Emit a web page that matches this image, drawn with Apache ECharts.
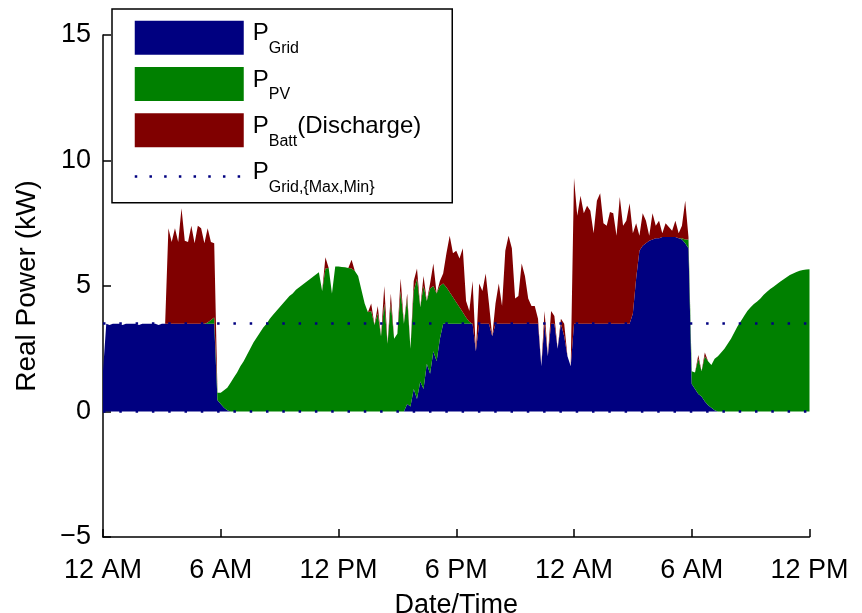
<!DOCTYPE html>
<html><head><meta charset="utf-8">
<script src="https://cdn.jsdelivr.net/npm/echarts@6/dist/echarts.min.js"></script>
<style>html,body{margin:0;padding:0;background:#fff}#c{width:862px;height:613px}</style>
</head><body><div id="c"></div>
<script>
// x-axis tick labels (every 6 h over 36 h)
const tickLabels = ['12 AM', '6 AM', '12 PM', '6 PM', '12 AM', '6 AM', '12 PM'];
// sampling step of the readings (minutes)
const stepMinutes = 10;
const minutesPerTick = 360;

// P_Grid (kW), one reading every 10 min from 12 AM (217 readings)
const grid = [
  1.6,
  3.5,3.45,3.5,3.5,3.5,3.45,3.5,3.5,3.5,3.5,
  3.45,3.5,3.5,3.5,3.5,3.5,3.45,3.5,3.5,
  3.5,3.5,3.5,3.5,3.5,3.5,3.5,3.5,3.5,3.5,3.5,3.5,3.5,3.5,3.5,
  0.45,0.3,0.15,0.05,
  0,0,0,0,0,0,0,0,0,0,
  0,0,0,0,0,0,0,0,0,0,
  0,0,0,0,0,0,0,0,0,0,
  0,0,0,0,0,0,0,0,0,0,
  0,0,0,0,0,0,0,0,0,0,
  0,0,0,0,
  0.3,0.2,0.9,0.5,1.2,0.9,1.9,1.5,2.4,2.0,2.9,
  3.5,3.5,3.5,3.5,3.5,3.5,3.5,3.5,3.5,3.5,
  2.4,
  3.5,3.5,3.5,3.5,
  3.0,
  3.5,3.5,3.5,3.5,3.5,3.5,3.5,3.5,3.5,3.5,3.5,3.5,3.5,3.5,
  1.8,3.5,2.2,3.5,3.5,2.5,3.5,3.0,2.2,1.8,
  3.5,3.5,3.5,3.5,3.5,3.5,3.5,3.5,3.5,3.5,3.5,3.5,3.5,3.5,3.5,3.5,3.5,3.5,
  3.9,5.3,6.4,6.6,6.7,6.8,6.85,6.9,6.9,6.95,6.95,6.95,6.95,6.95,6.9,6.85,6.7,6.5,
  1.1,0.9,0.7,0.6,0.4,0.25,0.15,0.05,
  0,0,0,0,0,0,0,0,0,0,
  0,0,0,0,0,0,0,0,0,0,
  0,0,0,0,0,0,0,0,0
];

// P_PV (kW)
const pv = [
  0,0,0,0,0,0,0,0,0,0,
  0,0,0,0,0,0,0,0,0,0,
  0,0,0,0,0,0,0,0,0,0,
  0,0,
  0.05,0.15,0.25,0.3,0.45,0.7,0.9,
  1.15,1.35,1.55,1.8,2.0,2.25,2.5,2.75,2.95,3.15,
  3.35,3.5,3.7,3.85,4.0,4.15,4.3,4.45,4.6,4.7,
  4.85,4.95,5.05,5.15,5.25,5.35,5.45,
  5.55,4.8,5.7,5.72,4.7,5.78,5.78,5.76,5.75,5.72,5.7,5.6,5.4,4.85,4.3,3.95,
  4.0,3.45,3.9,3.0,4.3,2.7,4.3,2.9,3.1,4.8,3.5,
  4.2,2.3,3.9,4.8,2.95,4.1,2.5,3.4,2.6,2.7,2.1,
  1.6,1.45,1.25,1.05,0.85,0.65,0.45,0.25,0.08,
  0,0,0,0,0,0,0,0,0,0,
  0,0,0,0,0,0,0,0,0,0,
  0,0,0,0,0,0,0,0,0,0,
  0,0,0,0,0,0,0,0,0,0,
  0,0,0,0,0,0,0,0,0,0,
  0,0,0,0,0,0,0,0,0,0,
  0,0,0,0,
  0.05,0.15,0.35,
  0.5,0.65,1.4,1.0,1.8,1.75,1.7,2.05,
  2.2,2.35,2.5,2.7,2.9,3.15,3.4,3.6,3.8,4.0,
  4.15,4.28,4.38,4.5,4.65,4.77,4.88,4.97,5.07,5.17,
  5.26,5.35,5.44,5.5,5.56,5.61,5.64,5.66,5.67
];

// P_Batt discharge (kW)
const batt = [
  0,0,0,0,0,0,0,0,0,0,
  0,0,0,0,0,0,0,0,0,0,
  3.8,3.25,3.8,3.25,4.6,3.3,3.25,3.9,3.2,3.9,3.8,3.2,3.75,3.1,2.95,
  0,0,0,0,0,0,0,0,0,0,
  0,0,0,0,0,0,0,0,0,0,
  0,0,0,0,0,0,0,0,0,0,
  0,0,0,
  0.45,
  0,0,0,0,0,0,0,
  0.35,
  0,0,0,0,0,
  0.3,0,0.3,0,0.7,0,0.4,0,0,0.5,0,
  0.2,0,0.4,0.4,0,0.4,0,0.2,0.9,0,0.2,
  0.4,
  1.35,2.25,1.75,2.05,1.95,2.55,0.65,0.42,1.7,0,
  1.6,1.3,2.0,0.8,0,0.8,1.6,0.7,2.9,3.5,
  3.0,1.0,1.1,2.4,1.9,1.0,0.7,0.7,0.2,0,
  0.5,0,0.5,0.3,0,0.2,0.5,0,0,
  5.8,4.3,5.1,4.4,4.7,4.5,3.6,4.9,5.2,4.0,
  3.9,4.45,4.4,3.5,5.05,3.9,4.1,4.8,
  3.2,2.2,0.6,1.3,0.9,0.2,1.05,0.5,0.7,0.15,
  0.55,0.4,0.25,0.65,0.2,0.5,1.55,0.1,
  0,0,0.15,0,0.15,
  0,0,0,0,0,0,0,0,0,0,
  0,0,0,0,0,0,0,0,0,0,
  0,0,0,0,0,0,0,0,0,0,
  0,0
];

// grid power limits (kW)
const gridMax = 3.5;
const gridMin = 0;

const times = grid.map((_, i) => String(i * stepMinutes));
const F = "'Liberation Sans', Arial, Helvetica, sans-serif";
const NAVY = '#000080', GREEN = '#008000', MAROON = '#800000';

const legendText = {
  'P_Grid': '{p|P}Grid',
  'P_PV': '{p|P}PV',
  'P_Batt(Discharge)': '{p|P}Batt{q|(Discharge)}',
  'P_Grid,{Max,Min}': '{p|P}Grid,{Max,Min}'
};

const isTick = (idx) => (idx * stepMinutes) % minutesPerTick === 0;

const chart = echarts.init(document.getElementById('c'), null, {renderer: 'canvas'});
chart.setOption({
  animation: false,
  backgroundColor: '#fff',
  textStyle: {fontFamily: F},
  grid: {left: 103, right: 52.5, top: 35, bottom: 76, containLabel: false, outerBoundsMode: 'none'},
  legend: {
    orient: 'vertical', left: 112, top: 9,
    itemWidth: 109, itemHeight: 34, itemGap: -8.7,
    padding: [11.7, 31, -11.9, 21.5],
    borderColor: '#000', borderWidth: 1.5, backgroundColor: '#fff',
    selectedMode: false,
    data: [
      {name: 'P_Grid', icon: 'rect'},
      {name: 'P_PV', icon: 'rect'},
      {name: 'P_Batt(Discharge)', icon: 'rect'},
      {name: 'P_Grid,{Max,Min}', itemStyle: {opacity: 0},
       lineStyle: {color: NAVY, width: 2.5, type: [2.5, 12.2]}}
    ],
    formatter: (n) => legendText[n],
    textStyle: {
      fontSize: 16, fontFamily: F, color: '#000', lineHeight: 34,
      padding: [11, 0, -11, 0],
      rich: {
        p: {fontSize: 24, fontFamily: F, color: '#000', lineHeight: 34, padding: [0, 0, 30, 4]},
        q: {fontSize: 24, fontFamily: F, color: '#000', lineHeight: 34, padding: [0, 0, 30, 0]}
      }
    }
  },
  xAxis: {
    type: 'category', data: times, boundaryGap: false,
    name: 'Date/Time', nameLocation: 'middle', nameGap: 55,
    nameTextStyle: {fontSize: 27, color: '#000', fontFamily: F},
    axisLine: {show: true, onZero: false, lineStyle: {color: '#000', width: 1.5}},
    axisTick: {show: true, inside: true, length: 8, interval: (idx) => isTick(idx), lineStyle: {color: '#000', width: 1.5}},
    axisLabel: {interval: (idx) => isTick(idx), margin: 20, fontSize: 27, color: '#000', fontFamily: F,
      formatter: (v) => tickLabels[Number(v) / minutesPerTick]},
    splitLine: {show: false}
  },
  yAxis: {
    type: 'value', min: -5, max: 15, interval: 5,
    name: 'Real Power (kW)', nameLocation: 'middle', nameGap: 62,
    nameTextStyle: {fontSize: 28, color: '#000', fontFamily: F},
    axisLine: {show: true, lineStyle: {color: '#000', width: 1.5}},
    axisTick: {show: true, inside: true, length: 8, lineStyle: {color: '#000', width: 1.5}},
    axisLabel: {margin: 12, fontSize: 27, color: '#000', fontFamily: F,
      formatter: (v) => v < 0 ? '\u2212' + (-v) : String(v)},
    splitLine: {show: false}
  },
  series: [
    {name: 'P_Grid', type: 'line', stack: 'power', data: grid, symbol: 'none', color: NAVY,
     lineStyle: {width: 0}, areaStyle: {color: NAVY, opacity: 1}},
    {name: 'P_PV', type: 'line', stack: 'power', data: pv, symbol: 'none', color: GREEN,
     lineStyle: {width: 0}, areaStyle: {color: GREEN, opacity: 1}},
    {name: 'P_Batt(Discharge)', type: 'line', stack: 'power', data: batt, symbol: 'none', color: MAROON,
     lineStyle: {width: 0}, areaStyle: {color: MAROON, opacity: 1}},
    {name: 'P_Grid,{Max,Min}', type: 'line', data: [], symbol: 'none', color: NAVY, z: 10,
     lineStyle: {color: NAVY, width: 2.5, type: [2.5, 13.8]},
     markLine: {silent: true, symbol: ['none', 'none'], label: {show: false},
       lineStyle: {color: NAVY, width: 2.5, type: [2.5, 13.8]},
       emphasis: {disabled: true},
       data: [{yAxis: gridMax}, {yAxis: gridMin}]}}
  ]
});
</script></body></html>
